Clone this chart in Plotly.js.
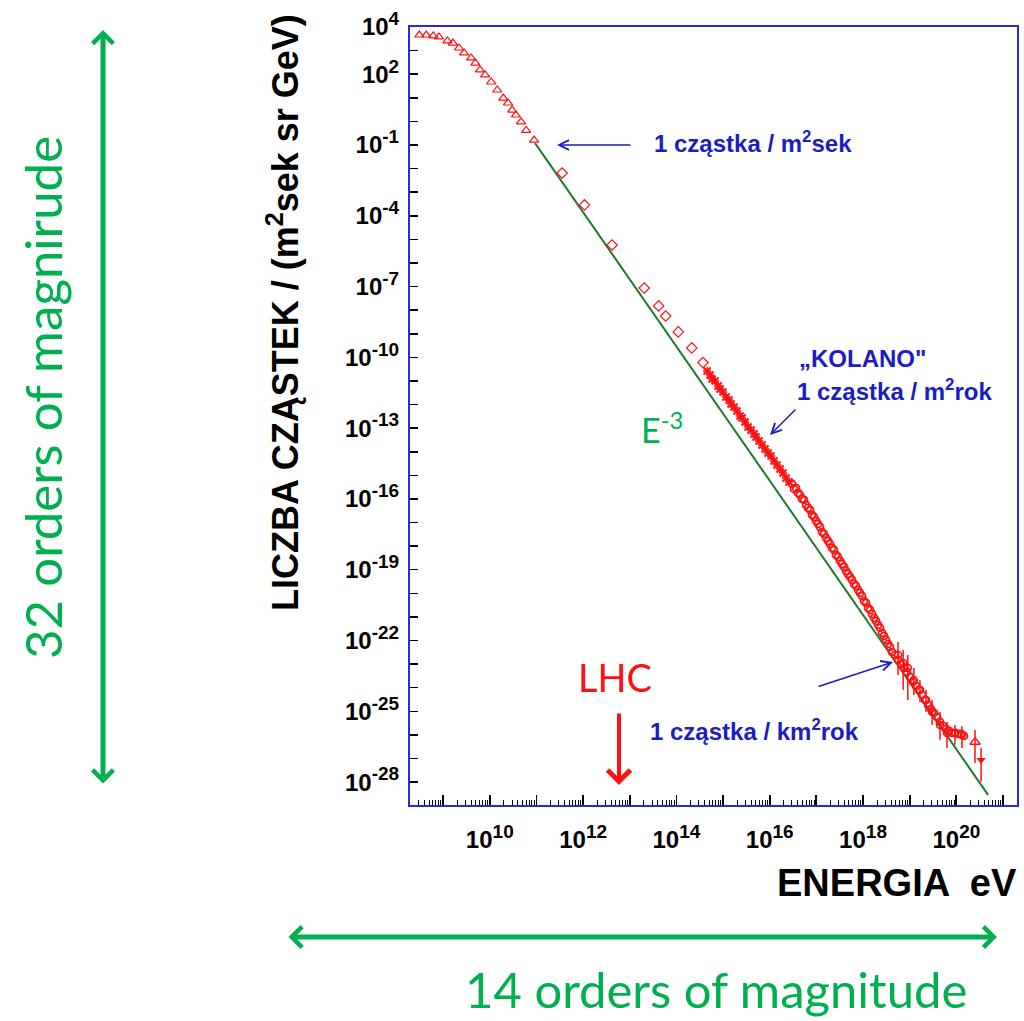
<!DOCTYPE html>
<html><head><meta charset="utf-8">
<script src="https://cdn.plot.ly/plotly-3.0.1.min.js"></script>
<style>html,body{margin:0;padding:0;background:#fff;}#chart{width:1024px;height:1021px;}</style>
</head><body><div id="chart"></div>
<script>
// ---- values (stored as log10 of energy [eV] and of flux) ----
const triLogE = [8.49, 8.64, 8.79, 8.91, 9.09, 9.21, 9.34, 9.45, 9.60, 9.69, 9.79, 9.90, 10.03, 10.16, 10.29, 10.39, 10.48, 10.56, 10.67, 10.78, 10.95];
const triLogF = [3.66, 3.66, 3.62, 3.58, 3.41, 3.32, 3.11, 2.90, 2.69, 2.47, 2.18, 1.97, 1.67, 1.33, 0.99, 0.78, 0.48, 0.27, -0.02, -0.38, -0.79];

const diaLogE = [11.55, 12.03, 12.62, 13.31, 13.62, 13.77, 14.04, 14.33, 14.57];
const diaLogF = [-2.19, -3.54, -5.24, -7.06, -7.82, -8.25, -8.92, -9.60, -10.22];

const kneeLogE = [14.657, 14.721, 14.764, 14.828, 14.892, 14.935, 14.999, 15.064, 15.128, 15.171, 15.235, 15.300, 15.364, 15.407, 15.471,
                  15.535, 15.600, 15.664, 15.707, 15.771, 15.835, 15.900, 15.964, 16.028, 16.092, 16.157, 16.221, 16.285, 16.350, 16.414];
const kneeLogF = [-10.576, -10.746, -10.915, -11.000, -11.212, -11.339, -11.466, -11.678, -11.805, -11.975, -12.102, -12.271, -12.483, -12.568, -12.737,
                  -12.949, -13.076, -13.246, -13.373, -13.542, -13.712, -13.881, -14.051, -14.178, -14.390, -14.559, -14.729, -14.898, -15.110, -15.280];

const circLogE = [16.478, 16.521, 16.564, 16.607, 16.650, 16.692, 16.735, 16.778, 16.821, 16.864, 16.907, 16.950, 16.992, 17.035, 17.078, 17.121, 17.164,
                  17.207, 17.250, 17.292, 17.335, 17.378, 17.421, 17.464, 17.507, 17.550, 17.593, 17.635, 17.678, 17.721, 17.764, 17.807, 17.850, 17.892,
                  17.935, 17.978, 18.021, 18.064, 18.107, 18.150, 18.193, 18.235, 18.278, 18.321, 18.364, 18.407, 18.450, 18.493, 18.535, 18.578, 18.621,
                  18.685, 18.749, 18.814, 18.878, 18.942, 19.006, 19.071, 19.135, 19.199, 19.264, 19.328, 19.392, 19.456, 19.521, 19.585, 19.649, 19.714,
                  19.778, 19.842, 19.906, 19.971, 20.035, 20.099, 20.164];
const circLogF = [-15.364, -15.576, -15.534, -15.746, -15.831, -16.000, -16.042, -16.254, -16.381, -16.466, -16.678, -16.763, -16.932, -17.059, -17.187, -17.398, -17.483,
                  -17.653, -17.780, -17.907, -18.076, -18.161, -18.373, -18.458, -18.627, -18.754, -18.881, -19.051, -19.178, -19.305, -19.432, -19.602, -19.687, -19.856,
                  -19.983, -20.110, -20.322, -20.407, -20.619, -20.703, -20.873, -21.042, -21.170, -21.339, -21.466, -21.678, -21.805, -21.975, -22.144, -22.271, -22.483,
                  -22.610, -22.822, -22.992, -23.161, -23.331, -23.542, -23.754, -23.924, -24.093, -24.305, -24.517, -24.729, -24.898, -25.068, -25.237, -25.449, -25.619,
                  -25.746, -25.831, -25.915, -25.915, -25.958, -25.958, -26.042];

const barLogE  = [18.75, 18.86, 18.96, 19.09, 19.22, 19.35, 19.48, 19.65, 19.80, 19.97, 20.12];
const barLogF  = [-22.61, -22.95, -23.16, -23.67, -24.09, -24.52, -25.03, -25.58, -25.92, -25.92, -26.00];
const barLogHi = [-22.06, -22.40, -22.61, -23.16, -23.67, -24.09, -24.52, -25.03, -25.45, -25.58, -25.62];
const barLogLo = [-23.46, -24.09, -24.52, -24.31, -24.60, -25.03, -25.58, -26.21, -26.55, -26.42, -26.55];

const upLogE = [20.40], upLogF = [-26.30], upLogHi = [-25.79], upLogLo = [-27.19];
const dnLogE = [20.53], dnLogF = [-27.06], dnLogHi = [-26.55], dnLogLo = [-27.99];

const fitLogE = [10.97, 20.68];
const fitLogF = [-0.92, -28.54];

const xTickExp = [9, 10, 11, 12, 13, 14, 15, 16, 17, 18, 19, 20, 21];
const xLabelExp = [10, 12, 14, 16, 18, 20];
const yTickExp = [4, 3, 2, 1, 0, -1, -2, -3, -4, -5, -6, -7, -8, -9, -10, -11, -12, -13, -14, -15, -16, -17, -18, -19, -20, -21, -22, -23, -24, -25, -26, -27, -28];
const yLabelExp = [4, 2, -1, -4, -7, -10, -13, -16, -19, -22, -25, -28];

// ---- helpers ----
const p10 = v => Math.pow(10, v);
const L = 410, R = 1017, T = 27, B = 805;           // plot box in pixels
const px = x => (x - L) / (R - L);
const py = y => (B - y) / (B - T);

const red = '#ff1010', blue = '#1c1cc4', frame = '#2a2ae6', fitGreen = '#1f7a30', green = '#00b050';
const boldFont = 'Liberation Sans, Arial, sans-serif';
const handFont = 'Lato, Open Sans, sans-serif';

function errs(f, hi, lo) {
  return {
    type: 'data', symmetric: false,
    array: f.map((v, i) => p10(hi[i]) - p10(v)),
    arrayminus: f.map((v, i) => p10(v) - p10(lo[i])),
    color: red, thickness: 1.5, width: 0
  };
}

const xMinor = [];
for (let d = 8; d <= 21; d++) for (let k = 2; k <= 9; k++) xMinor.push(k * p10(d));

const traces = [
  { x: fitLogE.map(p10), y: fitLogF.map(p10), mode: 'lines', line: { color: fitGreen, width: 2 }, hoverinfo: 'skip' },
  { x: triLogE.map(p10), y: triLogF.map(p10), mode: 'markers', marker: { symbol: 'triangle-up-open', size: 8, color: red, line: { width: 1.2 } } },
  { x: diaLogE.map(p10), y: diaLogF.map(p10), mode: 'markers', marker: { symbol: 'diamond-open', size: 8, color: red, line: { width: 1.2 } } },
  { x: kneeLogE.map(p10), y: kneeLogF.map(p10), mode: 'markers', marker: { symbol: 'x-thin', size: 7, color: red, line: { width: 2, color: red } } },
  { x: kneeLogE.map(p10), y: kneeLogF.map(p10), mode: 'markers', marker: { symbol: 'cross-thin', size: 6, color: red, line: { width: 1.5, color: red } } },
  { x: circLogE.map(p10), y: circLogF.map(p10), mode: 'markers', marker: { symbol: 'circle-open', size: 7, color: red, line: { width: 1.7 } } },
  { x: barLogE.map(p10), y: barLogF.map(p10), mode: 'markers', marker: { symbol: 'circle-open', size: 7, color: red, line: { width: 1.5 } }, error_y: errs(barLogF, barLogHi, barLogLo) },
  { x: upLogE.map(p10), y: upLogF.map(p10), mode: 'markers', marker: { symbol: 'triangle-up-open', size: 9, color: red, line: { width: 1.3 } }, error_y: errs(upLogF, upLogHi, upLogLo) },
  { x: dnLogE.map(p10), y: dnLogF.map(p10), mode: 'markers', marker: { symbol: 'triangle-down', size: 8, color: red }, error_y: errs(dnLogF, dnLogHi, dnLogLo) }
];

const sup = e => '10<sup><span style="font-size:19px">' + e + '</span></sup>';

const ann = [];
// axis titles
ann.push({ xref: 'paper', yref: 'paper', x: px(283), y: py(313), text: 'LICZBA CZĄSTEK / (m<sup>2</sup>sek sr GeV)', textangle: -90, showarrow: false, xanchor: 'center', yanchor: 'middle', font: { family: boldFont, size: 36, color: '#000', weight: 'bold' } });
ann.push({ xref: 'paper', yref: 'paper', x: px(897), y: py(883), text: 'ENERGIA  eV', showarrow: false, xanchor: 'center', yanchor: 'middle', font: { family: boldFont, size: 38, color: '#000', weight: 'bold' } });
// blue annotations
const bf = { family: boldFont, size: 24, color: blue, weight: 'bold' };
ann.push({ xref: 'paper', yref: 'paper', x: px(652), y: py(142), text: '1 cząstka / m<sup>2</sup>sek', showarrow: false, xanchor: 'left', yanchor: 'middle', font: bf });
ann.push({ xref: 'paper', yref: 'paper', x: px(557), y: py(145), ax: 75, ay: 0, text: '', showarrow: true, arrowhead: 5, arrowsize: 1.3, arrowwidth: 1.5, arrowcolor: blue });
ann.push({ xref: 'paper', yref: 'paper', x: px(797), y: py(358), text: '„KOLANO"', showarrow: false, xanchor: 'left', yanchor: 'middle', font: bf });
ann.push({ xref: 'paper', yref: 'paper', x: px(795), y: py(390), text: '1 cząstka / m<sup>2</sup>rok', showarrow: false, xanchor: 'left', yanchor: 'middle', font: bf });
ann.push({ xref: 'paper', yref: 'paper', x: px(770), y: py(435), ax: 27, ay: -27, text: '', showarrow: true, arrowhead: 5, arrowsize: 1.3, arrowwidth: 1.5, arrowcolor: blue });
ann.push({ xref: 'paper', yref: 'paper', x: px(648), y: py(730), text: '1 cząstka / km<sup>2</sup>rok', showarrow: false, xanchor: 'left', yanchor: 'middle', font: bf });
ann.push({ xref: 'paper', yref: 'paper', x: px(893), y: py(662), ax: -76, ay: 25, text: '', showarrow: true, arrowhead: 5, arrowsize: 1.3, arrowwidth: 1.5, arrowcolor: blue });
// E^-3 and LHC
ann.push({ xref: 'paper', yref: 'paper', x: px(639), y: py(428), text: 'E<sup>-3</sup>', showarrow: false, xanchor: 'left', yanchor: 'middle', font: { family: handFont, size: 34, color: green } });
ann.push({ xref: 'paper', yref: 'paper', x: px(615), y: py(677), text: 'LHC', showarrow: false, xanchor: 'center', yanchor: 'middle', font: { family: handFont, size: 38, color: red } });
ann.push({ xref: 'paper', yref: 'paper', x: px(619), y: py(785), ax: 0, ay: -73, text: '', showarrow: true, arrowhead: 4, arrowsize: 1.1, arrowwidth: 4, arrowcolor: red });
// green outer arrows and texts
ann.push({ xref: 'paper', yref: 'paper', x: px(103), y: py(30), ax: 0, ay: 755, text: '', showarrow: true, arrowside: 'end+start', arrowhead: 4, startarrowhead: 4, arrowsize: 0.8, startarrowsize: 0.8, arrowwidth: 5, arrowcolor: green });
ann.push({ xref: 'paper', yref: 'paper', x: px(997), y: py(937), ax: -710, ay: 0, text: '', showarrow: true, arrowside: 'end+start', arrowhead: 4, startarrowhead: 4, arrowsize: 0.8, startarrowsize: 0.8, arrowwidth: 5, arrowcolor: green });
ann.push({ xref: 'paper', yref: 'paper', x: px(42), y: py(398), text: '32 orders of magnirude', textangle: -90, showarrow: false, xanchor: 'center', yanchor: 'middle', font: { family: handFont, size: 51, color: green } });
ann.push({ xref: 'paper', yref: 'paper', x: px(716), y: py(989), text: '14 orders of magnitude', showarrow: false, xanchor: 'center', yanchor: 'middle', font: { family: handFont, size: 49, color: green } });

const layout = {
  width: 1024, height: 1021,
  margin: { l: L, r: 1024 - R, t: T, b: 1021 - B, pad: 0 },
  paper_bgcolor: '#fff', plot_bgcolor: '#fff',
  showlegend: false,
  xaxis: {
    type: 'log', range: [8.29, 21.3], showgrid: false, zeroline: false,
    showline: true, mirror: true, linecolor: frame, linewidth: 2,
    ticks: 'inside', ticklen: 10, tickwidth: 1.8, tickcolor: '#000',
    tickmode: 'array', tickvals: xTickExp.map(p10),
    ticktext: xTickExp.map(e => xLabelExp.includes(e) ? sup(e) : ''),
    tickfont: { family: boldFont, size: 24, color: '#000', weight: 'bold' },
    ticklabelstandoff: 12,
    minor: { tickmode: 'array', tickvals: xMinor, ticks: 'inside', ticklen: 5, tickwidth: 1, tickcolor: '#000', showgrid: false }
  },
  yaxis: {
    type: 'log', range: [-28.97, 4], showgrid: false, zeroline: false,
    showline: true, mirror: true, linecolor: frame, linewidth: 2,
    ticks: 'inside', ticklen: 8, tickwidth: 1.5, tickcolor: '#000',
    tickmode: 'array', tickvals: yLabelExp.map(p10),
    ticktext: yLabelExp.map(sup),
    tickfont: { family: boldFont, size: 24, color: '#000', weight: 'bold' },
    ticklabelstandoff: 4,
    minor: { tickmode: 'array', tickvals: yTickExp.map(p10), ticks: 'inside', ticklen: 8, tickwidth: 1.5, tickcolor: '#000', showgrid: false }
  },
  annotations: ann
};

Plotly.newPlot('chart', traces, layout, { staticPlot: true, displayModeBar: false });
</script></body></html>
